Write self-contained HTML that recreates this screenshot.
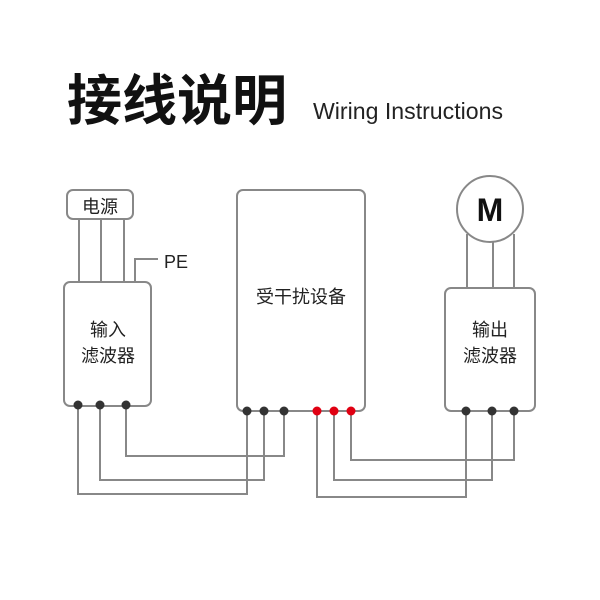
<!DOCTYPE html>
<html><head><meta charset="utf-8"><style>
body{margin:0;background:#fff;}
svg{display:block}
</style></head><body>
<svg width="600" height="600" viewBox="0 0 600 600" xmlns="http://www.w3.org/2000/svg">
<rect width="600" height="600" fill="#fff"/>
<text x="67" y="120" font-family="Liberation Sans, Noto Sans CJK SC, sans-serif" font-size="55" font-weight="bold" fill="#111">接线说明</text>
<text x="313" y="119" font-family="Liberation Sans, sans-serif" font-size="23" fill="#222" textLength="190" lengthAdjust="spacingAndGlyphs">Wiring Instructions</text>
<g fill="none" stroke="#888" stroke-width="2">
<rect x="67" y="190" width="66" height="29" rx="6"/>
<line x1="79" y1="219" x2="79" y2="282"/>
<line x1="101" y1="219" x2="101" y2="282"/>
<line x1="124" y1="219" x2="124" y2="282"/>
<polyline points="135,282 135,259 158,259"/>
<rect x="64" y="282" width="87" height="124" rx="6"/>
<rect x="237" y="190" width="128" height="221" rx="6"/>
<circle cx="490" cy="209" r="33"/>
<line x1="467" y1="234" x2="467" y2="288"/>
<line x1="493" y1="242" x2="493" y2="288"/>
<line x1="514" y1="234" x2="514" y2="288"/>
<rect x="445" y="288" width="90" height="123" rx="6"/>
<polyline points="126,405 126,456 284,456 284,411"/>
<polyline points="100,405 100,480 264,480 264,411"/>
<polyline points="78,405 78,494 247,494 247,411"/>
<polyline points="351,411 351,460 514,460 514,411"/>
<polyline points="334,411 334,480 492,480 492,411"/>
<polyline points="317,411 317,497 466,497 466,411"/>
</g>
<g fill="#333">
<circle cx="78" cy="405" r="4.5"/><circle cx="100" cy="405" r="4.5"/><circle cx="126" cy="405" r="4.5"/>
<circle cx="247" cy="411" r="4.5"/><circle cx="264" cy="411" r="4.5"/><circle cx="284" cy="411" r="4.5"/>
<circle cx="466" cy="411" r="4.5"/><circle cx="492" cy="411" r="4.5"/><circle cx="514" cy="411" r="4.5"/>
</g>
<g fill="#e00012">
<circle cx="317" cy="411" r="4.5"/><circle cx="334" cy="411" r="4.5"/><circle cx="351" cy="411" r="4.5"/>
</g>
<g font-family="Liberation Sans, Noto Sans CJK SC, sans-serif" font-size="18" fill="#222" text-anchor="middle">
<text x="100" y="213">电源</text>
<text x="176" y="268">PE</text>
<text x="108" y="336">输入</text>
<text x="108" y="362">滤波器</text>
<text x="301" y="303">受干扰设备</text>
<text x="490" y="336">输出</text>
<text x="490" y="362">滤波器</text>
<text x="490" y="221" font-size="32" font-weight="bold" fill="#111">M</text>
</g>
</svg>
</body></html>
